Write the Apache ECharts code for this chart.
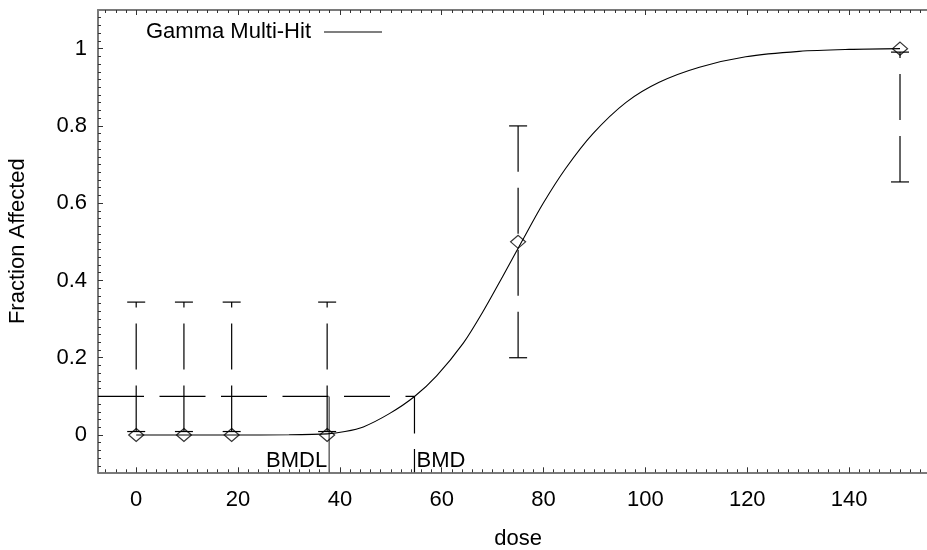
<!DOCTYPE html>
<html>
<head>
<meta charset="utf-8">
<script src="https://cdn.jsdelivr.net/npm/echarts@6/dist/echarts.min.js"></script>
<style>html,body{margin:0;padding:0;background:#fff}#chart{width:927px;height:550px}</style>
</head>
<body>
<div id="chart"></div>
<script>
// ---- data ----
const doses = [0, 9.375, 18.75, 37.5, 75, 150];
const fracAffected = [0, 0, 0, 0, 0.5, 1.0];
const ciLower = [0.009, 0.009, 0.009, 0.009, 0.2, 0.655];
const ciUpper = [0.344, 0.344, 0.344, 0.344, 0.8, 0.991];

const curveDose = [0, 9.375, 18.75, 30, 37.5, 41, 44.6, 49.8, 54.6, 59, 64.2, 68, 72, 75.7, 79.9, 84.4, 89.7, 96.2, 102.7, 110.6, 119.7, 130.2, 140, 150];
const curveFrac = [0, 0, 0, 0.0005, 0.003, 0.009, 0.021, 0.056, 0.099, 0.153, 0.237, 0.317, 0.411, 0.5, 0.599, 0.691, 0.78, 0.861, 0.913, 0.952, 0.979, 0.993, 0.998, 1.0];

const bmrLevel = 0.1;
const bmd = 54.65;
const bmdl = 37.9;

const xTicks = [0, 20, 40, 60, 80, 100, 120, 140];
const yTicks = [0, 0.2, 0.4, 0.6, 0.8, 1];
const xRange = [-7.5, 157.5];
const yRange = [-0.0965, 1.1];

const modelName = 'Gamma Multi-Hit';
const xName = 'dose';
const yName = 'Fraction Affected';

// ---- minor tick positions ----
const xMinor = [];
for (let v = -6; v <= 156; v += 2) xMinor.push(v);
const yMinor = [];
for (let i = -4; i <= 54; i++) yMinor.push(+(i * 0.02).toFixed(2));

const FONT = '"Liberation Sans", Arial, sans-serif';
const AXIS_COLOR = '#7a7a7a';

function mkX(position, ticks, len, showLine, showLabel, extra) {
  return Object.assign({
    type: 'value', position: position, min: xRange[0], max: xRange[1],
    gridIndex: 0,
    axisLine: { show: showLine, onZero: false, lineStyle: { color: AXIS_COLOR, width: 2 } },
    axisTick: { show: true, inside: true, length: len, customValues: ticks, lineStyle: { color: '#333', width: 1 } },
    axisLabel: { show: showLabel, customValues: xTicks, margin: 17, fontSize: 22, fontFamily: FONT, color: '#000' },
    splitLine: { show: false }
  }, extra || {});
}
function mkY(position, ticks, len, showLine, showLabel, extra) {
  return Object.assign({
    type: 'value', position: position, min: yRange[0], max: yRange[1],
    gridIndex: 0,
    axisLine: { show: showLine, onZero: false, lineStyle: { color: AXIS_COLOR, width: 2 } },
    axisTick: { show: true, inside: true, length: len, customValues: ticks, lineStyle: { color: '#333', width: 1 } },
    axisLabel: { show: showLabel, customValues: yTicks, margin: 11, fontSize: 22, fontFamily: FONT, color: '#000',
      formatter: v => String(+v.toFixed(1)) },
    splitLine: { show: false }
  }, extra || {});
}

const chart = echarts.init(document.getElementById('chart'), null, { renderer: 'canvas' });

const errData = doses.map((d, i) => [d, fracAffected[i], ciLower[i], ciUpper[i]]);

const option = {
  animation: false,
  backgroundColor: '#fff',
  grid: { left: 98, top: 10, bottom: 77.7, right: -11.2, outerBoundsMode: 'none', containLabel: false },
  legend: {
    show: true, left: 141, top: 16, align: 'right', orient: 'horizontal',
    itemWidth: 58, itemHeight: 1.2, selectedMode: false,
    itemStyle: { color: '#000', borderWidth: 0 },
    textStyle: { fontSize: 22, fontFamily: FONT, color: '#000', padding: [0, 8, 0, 0] },
    data: [{ name: modelName, icon: 'rect' }]
  },
  xAxis: [
    mkX('bottom', xTicks, 5, true, true, { name: xName, nameLocation: 'middle', nameGap: 56,
      nameTextStyle: { fontSize: 22, fontFamily: FONT, color: '#000' } }),
    mkX('bottom', xMinor, 3, false, false),
    mkX('top', xTicks, 5, true, false),
    mkX('top', xMinor, 3, false, false)
  ],
  yAxis: [
    mkY('left', yTicks, 5, true, true, { name: yName, nameLocation: 'middle', nameGap: 69, nameRotate: 90,
      nameTextStyle: { fontSize: 22, fontFamily: FONT, color: '#000' } }),
    mkY('left', yMinor, 3, false, false),
    mkY('right', yTicks, 5, true, false),
    mkY('right', yMinor, 3, false, false)
  ],
  series: [
    {
      name: modelName, type: 'line', xAxisIndex: 0, yAxisIndex: 0,
      data: curveDose.map((d, i) => [d, curveFrac[i]]),
      smooth: 0.3, symbol: 'none', showSymbol: false,
      lineStyle: { color: '#000', width: 1.1 }, itemStyle: { color: '#000' }, z: 3
    },
    {
      name: 'BMD', type: 'line', xAxisIndex: 0, yAxisIndex: 0,
      data: [[xRange[0], bmrLevel], [bmd, bmrLevel], [bmd, yRange[0]]],
      symbol: 'none', lineStyle: { color: '#000', width: 1.2, type: [46, 15.5] }, z: 2
    },
    {
      name: 'BMDL', type: 'line', xAxisIndex: 0, yAxisIndex: 0,
      data: [[bmdl, bmrLevel], [bmdl, yRange[0]]],
      symbol: 'none', lineStyle: { color: '#666', width: 1.5 }, z: 2
    },
    {
      name: 'errorbars', type: 'custom', xAxisIndex: 0, yAxisIndex: 0,
      data: errData, z: 4,
      renderItem: function (params, api) {
        const x = api.value(0), lo = api.value(2), hi = api.value(3);
        const pl = api.coord([x, lo]), ph = api.coord([x, hi]);
        const cap = 9;
        const st = { stroke: '#000', lineWidth: 1.2 };
        const dash = { stroke: '#000', lineWidth: 1.2, lineDash: [46, 16] };
        return {
          type: 'group',
          children: [
            { type: 'line', shape: { x1: pl[0], y1: pl[1], x2: ph[0], y2: ph[1] }, style: dash },
            { type: 'line', shape: { x1: ph[0] - cap, y1: ph[1], x2: ph[0] + cap, y2: ph[1] }, style: st },
            { type: 'line', shape: { x1: pl[0] - cap, y1: pl[1], x2: pl[0] + cap, y2: pl[1] }, style: st }
          ]
        };
      }
    },
    {
      name: 'observed', type: 'scatter', xAxisIndex: 0, yAxisIndex: 0,
      data: doses.map((d, i) => [d, fracAffected[i]]),
      symbol: 'diamond', symbolSize: [15, 13],
      itemStyle: { color: 'rgba(0,0,0,0)', borderColor: '#000', borderWidth: 1.2 }, z: 5
    },
    {
      name: 'bmdLabels', type: 'custom', xAxisIndex: 0, yAxisIndex: 0,
      data: [[bmdl, yRange[0], 0], [bmd, yRange[0], 1]], z: 6,
      renderItem: function (params, api) {
        const p = api.coord([api.value(0), api.value(1)]);
        const isBmd = api.value(2) === 1;
        return {
          type: 'text',
          style: {
            text: isBmd ? 'BMD' : 'BMDL',
            x: isBmd ? p[0] + 2 : p[0] - 2, y: p[1] - 11,
            align: isBmd ? 'left' : 'right', verticalAlign: 'middle',
            font: '22px ' + FONT, fill: '#000'
          }
        };
      }
    }
  ]
};
chart.setOption(option);
</script>
</body>
</html>
